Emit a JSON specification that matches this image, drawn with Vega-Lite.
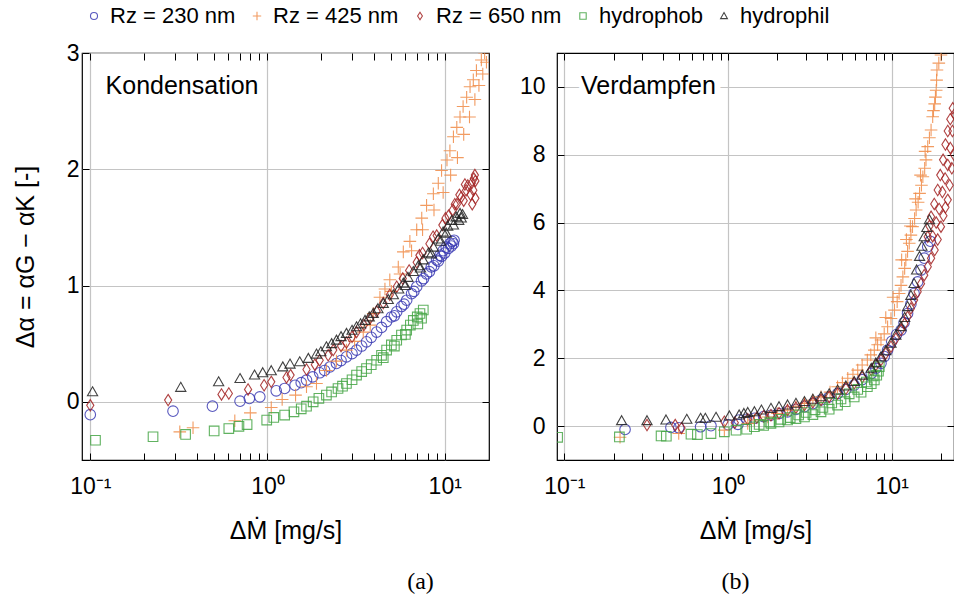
{
  "$schema": "https://vega.github.io/schema/vega-lite/v6.json",
  "padding": {"left": 12, "top": 5, "right": 1, "bottom": 0},
  "config": {
    "view": {"stroke": "black", "strokeWidth": 1.2},
    "font": "Liberation Sans",
    "axis": {
      "domain": false,
      "tickColor": "black",
      "tickWidth": 1,
      "labelFont": "Liberation Sans",
      "labelFontSize": 23,
      "labelColor": "black",
      "titleFont": "Liberation Sans",
      "titleFontSize": 25,
      "titleFontWeight": "normal",
      "titleColor": "black",
      "gridColor": "#c4c4c4",
      "gridWidth": 1.2,
      "labelFlush": false,
      "labelOverlap": false,
      "labelBound": false
    },
    "legend": {
      "orient": "none",
      "legendX": 1,
      "legendY": -48,
      "direction": "horizontal",
      "labelFont": "Liberation Sans",
      "labelFontSize": 22,
      "labelColor": "black",
      "symbolSize": 64,
      "symbolStrokeWidth": 1.1,
      "columnPadding": 10,
      "labelOffset": 5
    },
    "title": {"font": "Liberation Serif", "fontSize": 24, "fontWeight": "normal", "color": "black"}
  },
  "datasets": {
    "kond": [
      {"s":"Rz = 230 nm","x":0.1,"y":-0.11},{"s":"Rz = 230 nm","x":0.293,"y":-0.08},{"s":"Rz = 230 nm","x":0.489,"y":-0.037},{"s":"Rz = 230 nm","x":0.70,"y":0.006},{"s":"Rz = 230 nm","x":0.79,"y":0.029},{"s":"Rz = 230 nm","x":0.905,"y":0.043},{"s":"Rz = 230 nm","x":1.12,"y":0.095},{"s":"Rz = 230 nm","x":1.25,"y":0.115},{"s":"Rz = 230 nm","x":1.43,"y":0.143},{"s":"Rz = 230 nm","x":1.55,"y":0.165},{"s":"Rz = 230 nm","x":1.66,"y":0.187},{"s":"Rz = 230 nm","x":1.80,"y":0.215},{"s":"Rz = 230 nm","x":1.97,"y":0.25},{"s":"Rz = 230 nm","x":2.1,"y":0.27},{"s":"Rz = 230 nm","x":2.25,"y":0.30},{"s":"Rz = 230 nm","x":2.45,"y":0.33},{"s":"Rz = 230 nm","x":2.6,"y":0.355},{"s":"Rz = 230 nm","x":2.79,"y":0.387},{"s":"Rz = 230 nm","x":3.0,"y":0.415},{"s":"Rz = 230 nm","x":3.18,"y":0.445},{"s":"Rz = 230 nm","x":3.4,"y":0.48},{"s":"Rz = 230 nm","x":3.62,"y":0.516},{"s":"Rz = 230 nm","x":3.85,"y":0.555},{"s":"Rz = 230 nm","x":4.13,"y":0.60},{"s":"Rz = 230 nm","x":4.4,"y":0.64},{"s":"Rz = 230 nm","x":4.7,"y":0.69},{"s":"Rz = 230 nm","x":5.0,"y":0.73},{"s":"Rz = 230 nm","x":5.2,"y":0.74},{"s":"Rz = 230 nm","x":5.36,"y":0.774},{"s":"Rz = 230 nm","x":5.7,"y":0.82},{"s":"Rz = 230 nm","x":5.9,"y":0.84},{"s":"Rz = 230 nm","x":6.1,"y":0.874},{"s":"Rz = 230 nm","x":6.5,"y":0.93},{"s":"Rz = 230 nm","x":6.7,"y":0.95},{"s":"Rz = 230 nm","x":6.95,"y":0.99},{"s":"Rz = 230 nm","x":7.4,"y":1.04},{"s":"Rz = 230 nm","x":7.6,"y":1.06},{"s":"Rz = 230 nm","x":7.9,"y":1.10},{"s":"Rz = 230 nm","x":8.2,"y":1.12},{"s":"Rz = 230 nm","x":8.4,"y":1.16},{"s":"Rz = 230 nm","x":8.7,"y":1.17},{"s":"Rz = 230 nm","x":9.0,"y":1.22},{"s":"Rz = 230 nm","x":9.2,"y":1.21},{"s":"Rz = 230 nm","x":9.4,"y":1.26},{"s":"Rz = 230 nm","x":9.6,"y":1.25},{"s":"Rz = 230 nm","x":9.8,"y":1.30},{"s":"Rz = 230 nm","x":10.0,"y":1.28},{"s":"Rz = 230 nm","x":10.2,"y":1.33},{"s":"Rz = 230 nm","x":10.5,"y":1.32},{"s":"Rz = 230 nm","x":10.7,"y":1.36},{"s":"Rz = 230 nm","x":10.9,"y":1.34},{"s":"Rz = 230 nm","x":11.0,"y":1.38},{"s":"Rz = 230 nm","x":11.2,"y":1.36},{"s":"Rz = 230 nm","x":11.3,"y":1.39},
      {"s":"Rz = 425 nm","x":0.32,"y":-0.258},{"s":"Rz = 425 nm","x":0.38,"y":-0.223},{"s":"Rz = 425 nm","x":0.654,"y":-0.163},{"s":"Rz = 425 nm","x":0.80,"y":-0.095},{"s":"Rz = 425 nm","x":1.05,"y":-0.048},{"s":"Rz = 425 nm","x":1.21,"y":0.02},{"s":"Rz = 425 nm","x":1.44,"y":0.058},{"s":"Rz = 425 nm","x":1.66,"y":0.13},{"s":"Rz = 425 nm","x":1.89,"y":0.158},{"s":"Rz = 425 nm","x":2.15,"y":0.27},{"s":"Rz = 425 nm","x":2.45,"y":0.35},{"s":"Rz = 425 nm","x":2.79,"y":0.445},{"s":"Rz = 425 nm","x":3.1,"y":0.52},{"s":"Rz = 425 nm","x":3.47,"y":0.60},{"s":"Rz = 425 nm","x":3.8,"y":0.66},{"s":"Rz = 425 nm","x":3.95,"y":0.76},{"s":"Rz = 425 nm","x":4.31,"y":0.90},{"s":"Rz = 425 nm","x":4.6,"y":0.97},{"s":"Rz = 425 nm","x":4.9,"y":1.05},{"s":"Rz = 425 nm","x":5.0,"y":0.95},{"s":"Rz = 425 nm","x":5.47,"y":1.16},{"s":"Rz = 425 nm","x":5.6,"y":1.10},{"s":"Rz = 425 nm","x":5.84,"y":1.29},{"s":"Rz = 425 nm","x":6.36,"y":1.38},{"s":"Rz = 425 nm","x":6.5,"y":1.30},{"s":"Rz = 425 nm","x":6.95,"y":1.48},{"s":"Rz = 425 nm","x":7.42,"y":1.58},{"s":"Rz = 425 nm","x":7.5,"y":1.48},{"s":"Rz = 425 nm","x":7.9,"y":1.69},{"s":"Rz = 425 nm","x":8.63,"y":1.79},{"s":"Rz = 425 nm","x":8.7,"y":1.65},{"s":"Rz = 425 nm","x":9.2,"y":1.88},{"s":"Rz = 425 nm","x":9.6,"y":1.99},{"s":"Rz = 425 nm","x":9.8,"y":1.80},{"s":"Rz = 425 nm","x":10.3,"y":2.08},{"s":"Rz = 425 nm","x":10.7,"y":2.16},{"s":"Rz = 425 nm","x":10.8,"y":1.95},{"s":"Rz = 425 nm","x":11.2,"y":2.28},{"s":"Rz = 425 nm","x":11.7,"y":2.36},{"s":"Rz = 425 nm","x":11.8,"y":2.10},{"s":"Rz = 425 nm","x":12.2,"y":2.45},{"s":"Rz = 425 nm","x":12.7,"y":2.54},{"s":"Rz = 425 nm","x":12.8,"y":2.30},{"s":"Rz = 425 nm","x":13.3,"y":2.62},{"s":"Rz = 425 nm","x":13.8,"y":2.45},{"s":"Rz = 425 nm","x":13.9,"y":2.71},{"s":"Rz = 425 nm","x":14.5,"y":2.77},{"s":"Rz = 425 nm","x":14.8,"y":2.60},{"s":"Rz = 425 nm","x":15.1,"y":2.85},{"s":"Rz = 425 nm","x":15.6,"y":2.72},{"s":"Rz = 425 nm","x":16.1,"y":2.94},{"s":"Rz = 425 nm","x":16.4,"y":2.82},{"s":"Rz = 425 nm","x":16.8,"y":3.0},{"s":"Rz = 425 nm","x":17.2,"y":2.92},
      {"s":"Rz = 650 nm","x":0.1,"y":-0.03},{"s":"Rz = 650 nm","x":0.275,"y":0.015},{"s":"Rz = 650 nm","x":0.55,"y":0.064},{"s":"Rz = 650 nm","x":0.605,"y":0.072},{"s":"Rz = 650 nm","x":0.777,"y":0.107},{"s":"Rz = 650 nm","x":0.957,"y":0.143},{"s":"Rz = 650 nm","x":1.05,"y":0.172},{"s":"Rz = 650 nm","x":1.28,"y":0.21},{"s":"Rz = 650 nm","x":1.35,"y":0.23},{"s":"Rz = 650 nm","x":1.66,"y":0.278},{"s":"Rz = 650 nm","x":1.85,"y":0.32},{"s":"Rz = 650 nm","x":1.97,"y":0.358},{"s":"Rz = 650 nm","x":2.2,"y":0.40},{"s":"Rz = 650 nm","x":2.35,"y":0.445},{"s":"Rz = 650 nm","x":2.6,"y":0.48},{"s":"Rz = 650 nm","x":2.79,"y":0.51},{"s":"Rz = 650 nm","x":3.0,"y":0.56},{"s":"Rz = 650 nm","x":3.18,"y":0.60},{"s":"Rz = 650 nm","x":3.5,"y":0.66},{"s":"Rz = 650 nm","x":3.8,"y":0.72},{"s":"Rz = 650 nm","x":4.13,"y":0.78},{"s":"Rz = 650 nm","x":4.5,"y":0.85},{"s":"Rz = 650 nm","x":4.9,"y":0.92},{"s":"Rz = 650 nm","x":5.36,"y":0.99},{"s":"Rz = 650 nm","x":5.8,"y":1.06},{"s":"Rz = 650 nm","x":6.3,"y":1.13},{"s":"Rz = 650 nm","x":6.95,"y":1.20},{"s":"Rz = 650 nm","x":7.2,"y":1.26},{"s":"Rz = 650 nm","x":7.5,"y":1.28},{"s":"Rz = 650 nm","x":8.2,"y":1.36},{"s":"Rz = 650 nm","x":8.6,"y":1.42},{"s":"Rz = 650 nm","x":9.01,"y":1.43},{"s":"Rz = 650 nm","x":9.7,"y":1.52},{"s":"Rz = 650 nm","x":10.1,"y":1.58},{"s":"Rz = 650 nm","x":10.5,"y":1.60},{"s":"Rz = 650 nm","x":11.1,"y":1.65},{"s":"Rz = 650 nm","x":11.4,"y":1.70},{"s":"Rz = 650 nm","x":11.7,"y":1.70},{"s":"Rz = 650 nm","x":12.1,"y":1.78},{"s":"Rz = 650 nm","x":12.4,"y":1.76},{"s":"Rz = 650 nm","x":12.8,"y":1.73},{"s":"Rz = 650 nm","x":13.0,"y":1.87},{"s":"Rz = 650 nm","x":13.2,"y":1.82},{"s":"Rz = 650 nm","x":13.5,"y":1.86},{"s":"Rz = 650 nm","x":14.0,"y":1.78},{"s":"Rz = 650 nm","x":14.2,"y":1.88},{"s":"Rz = 650 nm","x":14.3,"y":1.70},{"s":"Rz = 650 nm","x":14.5,"y":1.82},{"s":"Rz = 650 nm","x":14.6,"y":1.92},{"s":"Rz = 650 nm","x":14.8,"y":1.95},{"s":"Rz = 650 nm","x":14.9,"y":1.90},{"s":"Rz = 650 nm","x":14.9,"y":1.75},
      {"s":"hydrophob","x":0.107,"y":-0.33},{"s":"hydrophob","x":0.226,"y":-0.30},{"s":"hydrophob","x":0.345,"y":-0.28},{"s":"hydrophob","x":0.5,"y":-0.25},{"s":"hydrophob","x":0.605,"y":-0.23},{"s":"hydrophob","x":0.69,"y":-0.21},{"s":"hydrophob","x":0.767,"y":-0.195},{"s":"hydrophob","x":0.99,"y":-0.157},{"s":"hydrophob","x":1.085,"y":-0.134},{"s":"hydrophob","x":1.25,"y":-0.114},{"s":"hydrophob","x":1.41,"y":-0.086},{"s":"hydrophob","x":1.55,"y":-0.06},{"s":"hydrophob","x":1.66,"y":-0.037},{"s":"hydrophob","x":1.81,"y":0.0},{"s":"hydrophob","x":1.95,"y":0.03},{"s":"hydrophob","x":2.15,"y":0.058},{"s":"hydrophob","x":2.3,"y":0.085},{"s":"hydrophob","x":2.5,"y":0.115},{"s":"hydrophob","x":2.65,"y":0.135},{"s":"hydrophob","x":2.79,"y":0.158},{"s":"hydrophob","x":3.0,"y":0.19},{"s":"hydrophob","x":3.18,"y":0.23},{"s":"hydrophob","x":3.4,"y":0.26},{"s":"hydrophob","x":3.62,"y":0.287},{"s":"hydrophob","x":3.85,"y":0.32},{"s":"hydrophob","x":4.13,"y":0.358},{"s":"hydrophob","x":4.4,"y":0.40},{"s":"hydrophob","x":4.5,"y":0.38},{"s":"hydrophob","x":4.7,"y":0.445},{"s":"hydrophob","x":5.0,"y":0.49},{"s":"hydrophob","x":5.2,"y":0.48},{"s":"hydrophob","x":5.36,"y":0.53},{"s":"hydrophob","x":5.7,"y":0.575},{"s":"hydrophob","x":6.0,"y":0.58},{"s":"hydrophob","x":6.1,"y":0.617},{"s":"hydrophob","x":6.4,"y":0.66},{"s":"hydrophob","x":6.65,"y":0.70},{"s":"hydrophob","x":7.0,"y":0.73},{"s":"hydrophob","x":7.05,"y":0.67},{"s":"hydrophob","x":7.25,"y":0.76},{"s":"hydrophob","x":7.4,"y":0.72},{"s":"hydrophob","x":7.57,"y":0.79},
      {"s":"hydrophil","x":0.103,"y":0.086},{"s":"hydrophil","x":0.324,"y":0.124},{"s":"hydrophil","x":0.53,"y":0.172},{"s":"hydrophil","x":0.70,"y":0.20},{"s":"hydrophil","x":0.845,"y":0.23},{"s":"hydrophil","x":0.94,"y":0.25},{"s":"hydrophil","x":1.05,"y":0.267},{"s":"hydrophil","x":1.22,"y":0.30},{"s":"hydrophil","x":1.34,"y":0.324},{"s":"hydrophil","x":1.52,"y":0.344},{"s":"hydrophil","x":1.70,"y":0.373},{"s":"hydrophil","x":1.89,"y":0.41},{"s":"hydrophil","x":2.0,"y":0.43},{"s":"hydrophil","x":2.15,"y":0.473},{"s":"hydrophil","x":2.3,"y":0.50},{"s":"hydrophil","x":2.45,"y":0.53},{"s":"hydrophil","x":2.6,"y":0.56},{"s":"hydrophil","x":2.79,"y":0.588},{"s":"hydrophil","x":3.0,"y":0.615},{"s":"hydrophil","x":3.18,"y":0.645},{"s":"hydrophil","x":3.35,"y":0.67},{"s":"hydrophil","x":3.55,"y":0.70},{"s":"hydrophil","x":3.75,"y":0.73},{"s":"hydrophil","x":3.95,"y":0.76},{"s":"hydrophil","x":4.2,"y":0.80},{"s":"hydrophil","x":4.5,"y":0.846},{"s":"hydrophil","x":4.8,"y":0.88},{"s":"hydrophil","x":5.13,"y":0.92},{"s":"hydrophil","x":5.5,"y":0.97},{"s":"hydrophil","x":5.84,"y":1.02},{"s":"hydrophil","x":6.0,"y":1.0},{"s":"hydrophil","x":6.2,"y":1.07},{"s":"hydrophil","x":6.65,"y":1.12},{"s":"hydrophil","x":7.1,"y":1.17},{"s":"hydrophil","x":7.3,"y":1.15},{"s":"hydrophil","x":7.57,"y":1.22},{"s":"hydrophil","x":8.1,"y":1.28},{"s":"hydrophil","x":8.4,"y":1.27},{"s":"hydrophil","x":8.63,"y":1.33},{"s":"hydrophil","x":9.2,"y":1.40},{"s":"hydrophil","x":9.5,"y":1.38},{"s":"hydrophil","x":9.8,"y":1.46},{"s":"hydrophil","x":10.2,"y":1.45},{"s":"hydrophil","x":10.4,"y":1.51},{"s":"hydrophil","x":10.96,"y":1.56},{"s":"hydrophil","x":11.2,"y":1.52},{"s":"hydrophil","x":11.6,"y":1.59},{"s":"hydrophil","x":12.0,"y":1.56},{"s":"hydrophil","x":12.2,"y":1.62},{"s":"hydrophil","x":12.4,"y":1.58},{"s":"hydrophil","x":12.6,"y":1.61}
    ],
    "verd": [
      {"s":"Rz = 230 nm","x":0.235,"y":-0.1},{"s":"Rz = 230 nm","x":0.448,"y":-0.04},{"s":"Rz = 230 nm","x":0.50,"y":-0.05},{"s":"Rz = 230 nm","x":0.68,"y":-0.02},{"s":"Rz = 230 nm","x":0.787,"y":0.01},{"s":"Rz = 230 nm","x":1.0,"y":0.04},{"s":"Rz = 230 nm","x":1.15,"y":0.05},{"s":"Rz = 230 nm","x":1.17,"y":0.18},{"s":"Rz = 230 nm","x":1.3,"y":0.2},{"s":"Rz = 230 nm","x":1.45,"y":0.23},{"s":"Rz = 230 nm","x":1.65,"y":0.28},{"s":"Rz = 230 nm","x":1.83,"y":0.32},{"s":"Rz = 230 nm","x":2.05,"y":0.37},{"s":"Rz = 230 nm","x":2.31,"y":0.42},{"s":"Rz = 230 nm","x":2.6,"y":0.49},{"s":"Rz = 230 nm","x":2.93,"y":0.57},{"s":"Rz = 230 nm","x":3.3,"y":0.66},{"s":"Rz = 230 nm","x":3.7,"y":0.77},{"s":"Rz = 230 nm","x":4.15,"y":0.86},{"s":"Rz = 230 nm","x":4.67,"y":0.96},{"s":"Rz = 230 nm","x":5.25,"y":1.08},{"s":"Rz = 230 nm","x":5.9,"y":1.21},{"s":"Rz = 230 nm","x":6.6,"y":1.37},{"s":"Rz = 230 nm","x":7.5,"y":1.55},{"s":"Rz = 230 nm","x":8.0,"y":1.7},{"s":"Rz = 230 nm","x":8.6,"y":1.85},{"s":"Rz = 230 nm","x":9.0,"y":2.05},{"s":"Rz = 230 nm","x":9.44,"y":2.24},{"s":"Rz = 230 nm","x":10.0,"y":2.5},{"s":"Rz = 230 nm","x":10.7,"y":2.7},{"s":"Rz = 230 nm","x":11.4,"y":2.83},{"s":"Rz = 230 nm","x":11.9,"y":3.05},{"s":"Rz = 230 nm","x":12.5,"y":3.32},{"s":"Rz = 230 nm","x":13.1,"y":3.6},{"s":"Rz = 230 nm","x":13.7,"y":3.91},{"s":"Rz = 230 nm","x":14.4,"y":4.25},{"s":"Rz = 230 nm","x":15.1,"y":4.6},{"s":"Rz = 230 nm","x":15.8,"y":4.95},{"s":"Rz = 230 nm","x":16.6,"y":5.29},{"s":"Rz = 230 nm","x":17.2,"y":5.45},
      {"s":"Rz = 425 nm","x":0.219,"y":-0.33},{"s":"Rz = 425 nm","x":0.5,"y":-0.22},{"s":"Rz = 425 nm","x":0.95,"y":-0.12},{"s":"Rz = 425 nm","x":1.32,"y":0.08},{"s":"Rz = 425 nm","x":1.45,"y":0.18},{"s":"Rz = 425 nm","x":1.75,"y":0.27},{"s":"Rz = 425 nm","x":2.0,"y":0.37},{"s":"Rz = 425 nm","x":2.31,"y":0.47},{"s":"Rz = 425 nm","x":2.6,"y":0.57},{"s":"Rz = 425 nm","x":2.93,"y":0.67},{"s":"Rz = 425 nm","x":3.3,"y":0.76},{"s":"Rz = 425 nm","x":3.7,"y":0.86},{"s":"Rz = 425 nm","x":4.2,"y":1.0},{"s":"Rz = 425 nm","x":4.67,"y":1.16},{"s":"Rz = 425 nm","x":5.0,"y":1.28},{"s":"Rz = 425 nm","x":5.39,"y":1.41},{"s":"Rz = 425 nm","x":5.8,"y":1.53},{"s":"Rz = 425 nm","x":6.2,"y":1.65},{"s":"Rz = 425 nm","x":6.6,"y":1.8},{"s":"Rz = 425 nm","x":7.1,"y":1.95},{"s":"Rz = 425 nm","x":7.45,"y":2.1},{"s":"Rz = 425 nm","x":7.83,"y":2.24},{"s":"Rz = 425 nm","x":8.0,"y":2.6},{"s":"Rz = 425 nm","x":8.2,"y":2.4},{"s":"Rz = 425 nm","x":8.6,"y":2.54},{"s":"Rz = 425 nm","x":9.0,"y":2.72},{"s":"Rz = 425 nm","x":9.2,"y":3.2},{"s":"Rz = 425 nm","x":9.44,"y":2.93},{"s":"Rz = 425 nm","x":9.9,"y":3.17},{"s":"Rz = 425 nm","x":10.2,"y":3.8},{"s":"Rz = 425 nm","x":10.4,"y":3.42},{"s":"Rz = 425 nm","x":10.8,"y":3.67},{"s":"Rz = 425 nm","x":11.1,"y":3.91},{"s":"Rz = 425 nm","x":11.4,"y":4.15},{"s":"Rz = 425 nm","x":11.5,"y":4.9},{"s":"Rz = 425 nm","x":11.7,"y":4.4},{"s":"Rz = 425 nm","x":12.0,"y":4.65},{"s":"Rz = 425 nm","x":12.2,"y":4.9},{"s":"Rz = 425 nm","x":12.3,"y":5.5},{"s":"Rz = 425 nm","x":12.5,"y":5.15},{"s":"Rz = 425 nm","x":12.8,"y":5.39},{"s":"Rz = 425 nm","x":13.0,"y":5.9},{"s":"Rz = 425 nm","x":13.1,"y":5.63},{"s":"Rz = 425 nm","x":13.4,"y":5.88},{"s":"Rz = 425 nm","x":13.8,"y":6.12},{"s":"Rz = 425 nm","x":14.0,"y":6.7},{"s":"Rz = 425 nm","x":14.1,"y":6.37},{"s":"Rz = 425 nm","x":14.5,"y":6.6},{"s":"Rz = 425 nm","x":14.8,"y":6.86},{"s":"Rz = 425 nm","x":15.0,"y":7.4},{"s":"Rz = 425 nm","x":15.2,"y":7.1},{"s":"Rz = 425 nm","x":15.5,"y":7.35},{"s":"Rz = 425 nm","x":15.9,"y":7.6},{"s":"Rz = 425 nm","x":16.0,"y":8.1},{"s":"Rz = 425 nm","x":16.2,"y":7.85},{"s":"Rz = 425 nm","x":16.6,"y":8.24},{"s":"Rz = 425 nm","x":17.0,"y":8.5},{"s":"Rz = 425 nm","x":17.4,"y":8.73},{"s":"Rz = 425 nm","x":17.8,"y":9.12},{"s":"Rz = 425 nm","x":18.0,"y":9.3},{"s":"Rz = 425 nm","x":18.3,"y":9.5},{"s":"Rz = 425 nm","x":18.5,"y":9.7},{"s":"Rz = 425 nm","x":18.7,"y":9.9},{"s":"Rz = 425 nm","x":18.8,"y":10.2},{"s":"Rz = 425 nm","x":18.9,"y":10.5},{"s":"Rz = 425 nm","x":19.4,"y":10.7},{"s":"Rz = 425 nm","x":20.0,"y":10.94},
      {"s":"Rz = 650 nm","x":0.32,"y":0.03},{"s":"Rz = 650 nm","x":0.476,"y":0.03},{"s":"Rz = 650 nm","x":0.52,"y":-0.06},{"s":"Rz = 650 nm","x":0.95,"y":0.127},{"s":"Rz = 650 nm","x":1.1,"y":0.1},{"s":"Rz = 650 nm","x":1.32,"y":0.2},{"s":"Rz = 650 nm","x":1.5,"y":0.25},{"s":"Rz = 650 nm","x":1.65,"y":0.29},{"s":"Rz = 650 nm","x":1.83,"y":0.32},{"s":"Rz = 650 nm","x":2.05,"y":0.38},{"s":"Rz = 650 nm","x":2.31,"y":0.47},{"s":"Rz = 650 nm","x":2.6,"y":0.54},{"s":"Rz = 650 nm","x":2.93,"y":0.62},{"s":"Rz = 650 nm","x":3.3,"y":0.70},{"s":"Rz = 650 nm","x":3.7,"y":0.77},{"s":"Rz = 650 nm","x":4.15,"y":0.86},{"s":"Rz = 650 nm","x":4.67,"y":0.96},{"s":"Rz = 650 nm","x":5.25,"y":1.1},{"s":"Rz = 650 nm","x":5.9,"y":1.26},{"s":"Rz = 650 nm","x":6.6,"y":1.44},{"s":"Rz = 650 nm","x":7.5,"y":1.65},{"s":"Rz = 650 nm","x":8.0,"y":1.8},{"s":"Rz = 650 nm","x":8.6,"y":1.95},{"s":"Rz = 650 nm","x":9.2,"y":2.14},{"s":"Rz = 650 nm","x":9.9,"y":2.34},{"s":"Rz = 650 nm","x":10.6,"y":2.58},{"s":"Rz = 650 nm","x":11.4,"y":2.83},{"s":"Rz = 650 nm","x":12.0,"y":3.02},{"s":"Rz = 650 nm","x":12.5,"y":3.22},{"s":"Rz = 650 nm","x":13.1,"y":3.47},{"s":"Rz = 650 nm","x":13.7,"y":3.72},{"s":"Rz = 650 nm","x":14.4,"y":3.96},{"s":"Rz = 650 nm","x":15.1,"y":4.2},{"s":"Rz = 650 nm","x":15.8,"y":4.45},{"s":"Rz = 650 nm","x":16.6,"y":4.7},{"s":"Rz = 650 nm","x":17.4,"y":4.95},{"s":"Rz = 650 nm","x":18.3,"y":5.19},{"s":"Rz = 650 nm","x":19.1,"y":5.5},{"s":"Rz = 650 nm","x":20.0,"y":5.88},{"s":"Rz = 650 nm","x":20.7,"y":6.2},{"s":"Rz = 650 nm","x":21.3,"y":6.45},{"s":"Rz = 650 nm","x":22.0,"y":6.67},{"s":"Rz = 650 nm","x":22.6,"y":7.1},{"s":"Rz = 650 nm","x":23.3,"y":7.6},{"s":"Rz = 650 nm","x":24.0,"y":8.0},{"s":"Rz = 650 nm","x":16.6,"y":5.58},{"s":"Rz = 650 nm","x":17.0,"y":5.9},{"s":"Rz = 650 nm","x":17.4,"y":6.17},{"s":"Rz = 650 nm","x":18.2,"y":6.55},{"s":"Rz = 650 nm","x":19.1,"y":6.96},{"s":"Rz = 650 nm","x":19.8,"y":7.4},{"s":"Rz = 650 nm","x":20.6,"y":7.85},{"s":"Rz = 650 nm","x":21.3,"y":8.3},{"s":"Rz = 650 nm","x":22.0,"y":8.7},{"s":"Rz = 650 nm","x":22.8,"y":9.05},{"s":"Rz = 650 nm","x":23.6,"y":9.37},{"s":"Rz = 650 nm","x":17.8,"y":5.6},{"s":"Rz = 650 nm","x":18.7,"y":6.0},{"s":"Rz = 650 nm","x":19.5,"y":6.4},{"s":"Rz = 650 nm","x":20.4,"y":6.9},{"s":"Rz = 650 nm","x":21.2,"y":7.3},{"s":"Rz = 650 nm","x":22.0,"y":7.7},{"s":"Rz = 650 nm","x":22.8,"y":8.2},{"s":"Rz = 650 nm","x":23.5,"y":8.7},{"s":"Rz = 650 nm","x":24.2,"y":9.2},
      {"s":"hydrophob","x":0.091,"y":-0.33},{"s":"hydrophob","x":0.217,"y":-0.32},{"s":"hydrophob","x":0.39,"y":-0.29},{"s":"hydrophob","x":0.42,"y":-0.3},{"s":"hydrophob","x":0.594,"y":-0.24},{"s":"hydrophob","x":0.65,"y":-0.25},{"s":"hydrophob","x":0.787,"y":-0.22},{"s":"hydrophob","x":0.95,"y":-0.17},{"s":"hydrophob","x":1.12,"y":-0.12},{"s":"hydrophob","x":1.3,"y":-0.09},{"s":"hydrophob","x":1.45,"y":-0.02},{"s":"hydrophob","x":1.55,"y":0.05},{"s":"hydrophob","x":1.65,"y":0.02},{"s":"hydrophob","x":1.8,"y":0.12},{"s":"hydrophob","x":1.83,"y":0.08},{"s":"hydrophob","x":2.05,"y":0.12},{"s":"hydrophob","x":2.1,"y":0.2},{"s":"hydrophob","x":2.31,"y":0.18},{"s":"hydrophob","x":2.4,"y":0.25},{"s":"hydrophob","x":2.6,"y":0.22},{"s":"hydrophob","x":2.7,"y":0.33},{"s":"hydrophob","x":2.93,"y":0.27},{"s":"hydrophob","x":3.0,"y":0.4},{"s":"hydrophob","x":3.3,"y":0.34},{"s":"hydrophob","x":3.4,"y":0.48},{"s":"hydrophob","x":3.7,"y":0.42},{"s":"hydrophob","x":3.8,"y":0.55},{"s":"hydrophob","x":4.15,"y":0.50},{"s":"hydrophob","x":4.3,"y":0.68},{"s":"hydrophob","x":4.67,"y":0.62},{"s":"hydrophob","x":4.9,"y":0.8},{"s":"hydrophob","x":5.2,"y":0.72},{"s":"hydrophob","x":5.5,"y":0.95},{"s":"hydrophob","x":5.9,"y":0.86},{"s":"hydrophob","x":6.2,"y":1.08},{"s":"hydrophob","x":6.5,"y":1.0},{"s":"hydrophob","x":7.0,"y":1.3},{"s":"hydrophob","x":7.1,"y":1.16},{"s":"hydrophob","x":7.5,"y":1.25},{"s":"hydrophob","x":7.7,"y":1.48},{"s":"hydrophob","x":7.83,"y":1.36},{"s":"hydrophob","x":8.1,"y":1.5},{"s":"hydrophob","x":8.3,"y":1.62},{"s":"hydrophob","x":8.4,"y":1.75},
      {"s":"hydrophil","x":0.224,"y":0.157},{"s":"hydrophil","x":0.32,"y":0.157},{"s":"hydrophil","x":0.418,"y":0.177},{"s":"hydrophil","x":0.56,"y":0.197},{"s":"hydrophil","x":0.68,"y":0.226},{"s":"hydrophil","x":0.727,"y":0.226},{"s":"hydrophil","x":0.845,"y":0.256},{"s":"hydrophil","x":1.02,"y":0.295},{"s":"hydrophil","x":1.17,"y":0.325},{"s":"hydrophil","x":1.25,"y":0.37},{"s":"hydrophil","x":1.32,"y":0.40},{"s":"hydrophil","x":1.45,"y":0.42},{"s":"hydrophil","x":1.6,"y":0.47},{"s":"hydrophil","x":1.83,"y":0.52},{"s":"hydrophil","x":2.05,"y":0.57},{"s":"hydrophil","x":2.31,"y":0.62},{"s":"hydrophil","x":2.6,"y":0.67},{"s":"hydrophil","x":2.93,"y":0.72},{"s":"hydrophil","x":3.3,"y":0.79},{"s":"hydrophil","x":3.7,"y":0.86},{"s":"hydrophil","x":4.15,"y":0.95},{"s":"hydrophil","x":4.67,"y":1.06},{"s":"hydrophil","x":5.25,"y":1.18},{"s":"hydrophil","x":5.9,"y":1.31},{"s":"hydrophil","x":6.6,"y":1.5},{"s":"hydrophil","x":7.5,"y":1.70},{"s":"hydrophil","x":8.0,"y":1.86},{"s":"hydrophil","x":8.6,"y":2.04},{"s":"hydrophil","x":9.2,"y":2.22},{"s":"hydrophil","x":9.9,"y":2.44},{"s":"hydrophil","x":10.6,"y":2.68},{"s":"hydrophil","x":11.4,"y":2.93},{"s":"hydrophil","x":12.0,"y":3.2},{"s":"hydrophil","x":12.5,"y":3.52},{"s":"hydrophil","x":13.1,"y":3.85},{"s":"hydrophil","x":13.7,"y":4.2},{"s":"hydrophil","x":14.2,"y":4.6},{"s":"hydrophil","x":14.8,"y":5.0},{"s":"hydrophil","x":15.3,"y":5.3},{"s":"hydrophil","x":15.8,"y":5.58},{"s":"hydrophil","x":16.4,"y":5.85},{"s":"hydrophil","x":17.0,"y":6.08}
    ]
  },
  "spacing": 27,
  "hconcat": [
    {
      "width": 407,
      "height": 407,
      "title": {"text": "(a)", "orient": "bottom", "anchor": "middle", "dx": 135, "offset": 27},
      "resolve": {"axis": {"x": "independent", "y": "independent"}},
      "layer": [
        {
          "data": {"name": "kond"},
          "mark": {"type": "point", "filled": false, "strokeWidth": 1.1, "opacity": 0.85, "size": 144, "clip": true},
          "encoding": {
            "x": {"field": "x", "type": "quantitative", "title": "ΔṀ [mg/s]",
              "scale": {"type": "log", "domain": [0.0898, 17.78], "nice": false},
              "axis": {"orient": "bottom", "values": [0.1,0.2,0.3,0.4,0.5,0.6,0.7,0.8,0.9,1,2,3,4,5,6,7,8,9,10],
                "labelExpr": "datum.value == 0.1 ? '10⁻¹' : datum.value == 1 ? '10⁰' : datum.value == 10 ? '10¹' : ''",
                "tickSize": -7, "labelPadding": 22, "titlePadding": 20,
                "gridOpacity": {"condition": {"test": "datum.value == 0.1 || datum.value == 1 || datum.value == 10", "value": 1}, "value": 0}}},
            "y": {"field": "y", "type": "quantitative", "title": "Δα = αG − αK [-]",
              "scale": {"domain": [-0.5, 3], "nice": false, "zero": false},
              "axis": {"orient": "left", "values": [0, 1, 2, 3], "tickSize": -7, "labelPadding": 10, "titlePadding": 28}},
            "color": {"field": "s", "type": "nominal", "title": null,
              "scale": {"domain": ["Rz = 230 nm", "Rz = 425 nm", "Rz = 650 nm", "hydrophob", "hydrophil"],
                "range": ["#3c3cb4", "#f08a46", "#a32222", "#45a545", "#222222"]}},
            "shape": {"field": "s", "type": "nominal", "title": null,
              "scale": {"domain": ["Rz = 230 nm", "Rz = 425 nm", "Rz = 650 nm", "hydrophob", "hydrophil"],
                "range": ["M-0.88,0A0.88,0.88,0,1,1,0.88,0A0.88,0.88,0,1,1,-0.88,0Z", "M-1.05,0L1.05,0M0,-1.05L0,1.05", "M0,-0.95L0.6,0L0,0.95L-0.6,0Z", "M-0.8,-0.8L0.8,-0.8L0.8,0.8L-0.8,0.8Z", "M0,-0.85L0.85,0.65L-0.85,0.65Z"]}}
          }
        },
        {
          "data": {"values": [{}]},
          "mark": {"type": "text", "align": "left", "baseline": "middle", "font": "Liberation Sans", "fontSize": 25, "color": "black"},
          "encoding": {
            "x": {"datum": 0.122, "type": "quantitative",
              "axis": {"orient": "top", "title": null, "labels": false, "grid": false, "tickSize": -7,
                "values": [0.1,0.2,0.3,0.4,0.5,0.6,0.7,0.8,0.9,1,2,3,4,5,6,7,8,9,10]}},
            "y": {"datum": 2.715, "type": "quantitative",
              "axis": {"orient": "right", "title": null, "labels": false, "grid": false, "tickSize": -7, "values": [0, 1, 2, 3]}},
            "text": {"value": "Kondensation"}
          }
        }
      ]
    },
    {
      "width": 397,
      "height": 407,
      "title": {"text": "(b)", "orient": "bottom", "anchor": "middle", "dx": -20, "offset": 27},
      "resolve": {"axis": {"x": "independent", "y": "independent"}},
      "layer": [
        {
          "data": {"name": "verd"},
          "mark": {"type": "point", "filled": false, "strokeWidth": 1.1, "opacity": 0.85, "size": 144, "clip": true},
          "encoding": {
            "x": {"field": "x", "type": "quantitative", "title": "ΔṀ [mg/s]",
              "scale": {"type": "log", "domain": [0.09023, 24.02], "nice": false},
              "axis": {"orient": "bottom", "values": [0.1,0.2,0.3,0.4,0.5,0.6,0.7,0.8,0.9,1,2,3,4,5,6,7,8,9,10,20],
                "labelExpr": "datum.value == 0.1 ? '10⁻¹' : datum.value == 1 ? '10⁰' : datum.value == 10 ? '10¹' : ''",
                "tickSize": -7, "labelPadding": 22, "titlePadding": 20,
                "gridOpacity": {"condition": {"test": "datum.value == 0.1 || datum.value == 1 || datum.value == 10", "value": 1}, "value": 0}}},
            "y": {"field": "y", "type": "quantitative", "title": null,
              "scale": {"domain": [-1, 11], "nice": false, "zero": false},
              "axis": {"orient": "left", "values": [0, 2, 4, 6, 8, 10], "tickSize": -7, "labelPadding": 19}},
            "color": {"field": "s", "type": "nominal", "title": null,
              "scale": {"domain": ["Rz = 230 nm", "Rz = 425 nm", "Rz = 650 nm", "hydrophob", "hydrophil"],
                "range": ["#3c3cb4", "#f08a46", "#a32222", "#45a545", "#222222"]}},
            "shape": {"field": "s", "type": "nominal", "title": null,
              "scale": {"domain": ["Rz = 230 nm", "Rz = 425 nm", "Rz = 650 nm", "hydrophob", "hydrophil"],
                "range": ["M-0.88,0A0.88,0.88,0,1,1,0.88,0A0.88,0.88,0,1,1,-0.88,0Z", "M-1.05,0L1.05,0M0,-1.05L0,1.05", "M0,-0.95L0.6,0L0,0.95L-0.6,0Z", "M-0.8,-0.8L0.8,-0.8L0.8,0.8L-0.8,0.8Z", "M0,-0.85L0.85,0.65L-0.85,0.65Z"]}}
          }
        },
        {
          "data": {"values": [{}]},
          "mark": {"type": "text", "align": "left", "baseline": "middle", "font": "Liberation Sans", "fontSize": 25, "stroke": "white", "strokeWidth": 12, "strokeJoin": "round", "color": "white"},
          "encoding": {
            "x": {"datum": 0.1265, "type": "quantitative", "axis": null},
            "y": {"datum": 10.03, "type": "quantitative", "axis": null},
            "text": {"value": "Verdampfen"}
          }
        },
        {
          "data": {"values": [{}]},
          "mark": {"type": "text", "align": "left", "baseline": "middle", "font": "Liberation Sans", "fontSize": 25, "color": "black"},
          "encoding": {
            "x": {"datum": 0.1265, "type": "quantitative",
              "axis": {"orient": "top", "title": null, "labels": false, "grid": false, "tickSize": -7,
                "values": [0.1,0.2,0.3,0.4,0.5,0.6,0.7,0.8,0.9,1,2,3,4,5,6,7,8,9,10,20]}},
            "y": {"datum": 10.03, "type": "quantitative",
              "axis": {"orient": "right", "title": null, "labels": false, "grid": false, "tickSize": -7, "values": [0, 2, 4, 6, 8, 10]}},
            "text": {"value": "Verdampfen"}
          }
        }
      ]
    }
  ]
}
